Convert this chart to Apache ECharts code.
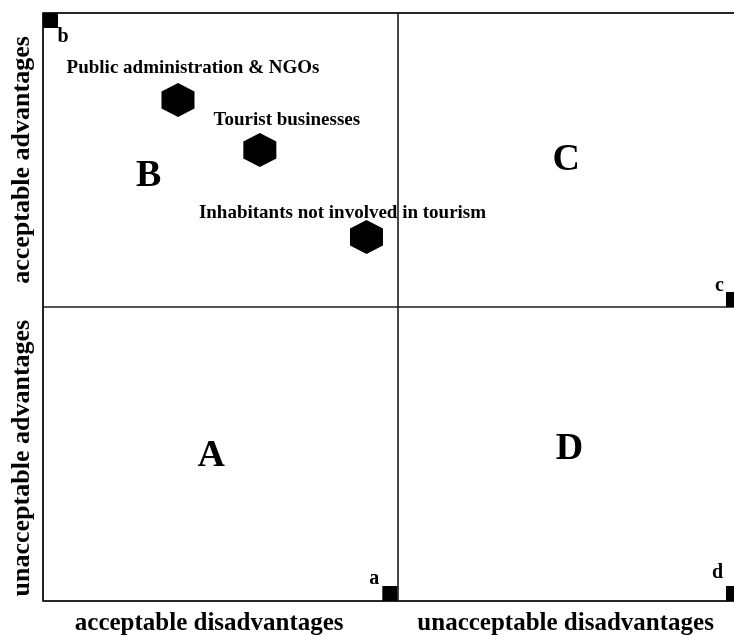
<!DOCTYPE html>
<html>
<head>
<meta charset="utf-8">
<script src="https://cdn.jsdelivr.net/npm/echarts@6/dist/echarts.min.js"></script>
<style>
html, body { margin: 0; padding: 0; background: #fff; }
#main { width: 734px; height: 637px; }
</style>
</head>
<body>
<div id="main"></div>
<script>
// stakeholder groups (hexagons)
var groupNames = ['Public administration & NGOs', 'Tourist businesses', 'Inhabitants not involved in tourism'];
var groupX = [0.381, 0.612, 0.913];
var groupY = [1.704, 1.534, 1.238];

// quadrant letters
var quadrantNames = ['A', 'B', 'C', 'D'];
var quadrantX = [0.475, 0.298, 1.477, 1.486];
var quadrantY = [0.494, 1.446, 1.499, 0.518];

// corner markers
var cornerNames = ['a', 'b', 'c', 'd'];
var cornerX = [1, 0, 1.97, 1.97];
var cornerY = [0, 2, 1, 0];

// axis texts
var xLabels = ['acceptable disadvantages', 'unacceptable disadvantages'];
var yLabels = ['unacceptable advantages', 'acceptable advantages'];

var serif = "'Liberation Serif', 'Times New Roman', serif";
var hexPath = 'path://M50,0 L100,25 L100,75 L50,100 L0,75 L0,25 Z';

var groupLabelOffsets = [[15, -32], [27, -30], [-24, -24]];
var cornerSymbolOffsets = [[-7.5, -7.5], [7.5, 7.5], [-7.5, -7.5], [-7.5, -7.5]];
var cornerLabelOffsets = [[-15.5, -15], [12.5, 16], [-14, -14], [-16, -21]];
var xLabelPos = [0.469, 1.475];
var yLabelPos = [0.486, 1.5];

var myChart = echarts.init(document.getElementById('main'));

var groupData = [];
for (var i = 0; i < groupNames.length; i++) {
    groupData.push({
        name: groupNames[i],
        value: [groupX[i], groupY[i]],
        label: { offset: groupLabelOffsets[i] }
    });
}

var cornerData = [];
for (var i = 0; i < cornerNames.length; i++) {
    cornerData.push({
        name: cornerNames[i],
        value: [cornerX[i], cornerY[i]],
        symbolOffset: cornerSymbolOffsets[i],
        label: { offset: cornerLabelOffsets[i] }
    });
}

var quadrantData = [];
for (var i = 0; i < quadrantNames.length; i++) {
    quadrantData.push({
        name: quadrantNames[i],
        value: [quadrantX[i], quadrantY[i]]
    });
}

var option = {
    animation: false,
    grid: {
        left: 43,
        top: 13,
        width: 698,
        height: 588,
        outerBoundsMode: 'none',
        containLabel: false,
        show: true,
        borderColor: '#1a1a1a',
        borderWidth: 1.6
    },
    xAxis: {
        type: 'value',
        min: 0,
        max: 1.97,
        interval: 1,
        axisLine: { show: false },
        axisTick: { show: false },
        splitLine: { show: true, lineStyle: { color: '#1a1a1a', width: 1.6 } },
        axisLabel: {
            customValues: xLabelPos,
            margin: 10,
            color: '#000',
            fontFamily: serif,
            fontWeight: 'bold',
            fontSize: 25,
            formatter: function (v) {
                return xLabels[xLabelPos.indexOf(v)];
            }
        }
    },
    yAxis: {
        type: 'value',
        min: 0,
        max: 2,
        interval: 1,
        axisLine: { show: false },
        axisTick: { show: false },
        splitLine: { show: true, lineStyle: { color: '#1a1a1a', width: 1.6 } },
        axisLabel: {
            customValues: yLabelPos,
            rotate: 90,
            margin: 8,
            color: '#000',
            fontFamily: serif,
            fontWeight: 'bold',
            fontSize: 26,
            formatter: function (v) {
                return yLabels[yLabelPos.indexOf(v)];
            }
        }
    },
    series: [{
        type: 'scatter',
        data: groupData,
        symbol: hexPath,
        symbolKeepAspect: false,
        symbolSize: [33, 34],
        itemStyle: { color: '#000', opacity: 1 },
        emphasis: { disabled: true },
        label: {
            show: true,
            position: 'inside',
            formatter: '{b}',
            color: '#000',
            fontFamily: serif,
            fontWeight: 'bold',
            fontSize: 19
        }
    }, {
        type: 'scatter',
        data: cornerData,
        symbol: 'rect',
        symbolSize: 15,
        itemStyle: { color: '#000', opacity: 1 },
        emphasis: { disabled: true },
        label: {
            show: true,
            position: 'inside',
            formatter: '{b}',
            color: '#000',
            fontFamily: serif,
            fontWeight: 'bold',
            fontSize: 20
        }
    }, {
        type: 'scatter',
        data: quadrantData,
        symbolSize: 1,
        itemStyle: { color: 'rgba(0,0,0,0)', opacity: 1 },
        emphasis: { disabled: true },
        label: {
            show: true,
            position: 'inside',
            formatter: '{b}',
            color: '#000',
            fontFamily: serif,
            fontWeight: 'bold',
            fontSize: 38
        }
    }]
};
myChart.setOption(option);
</script>
</body>
</html>
